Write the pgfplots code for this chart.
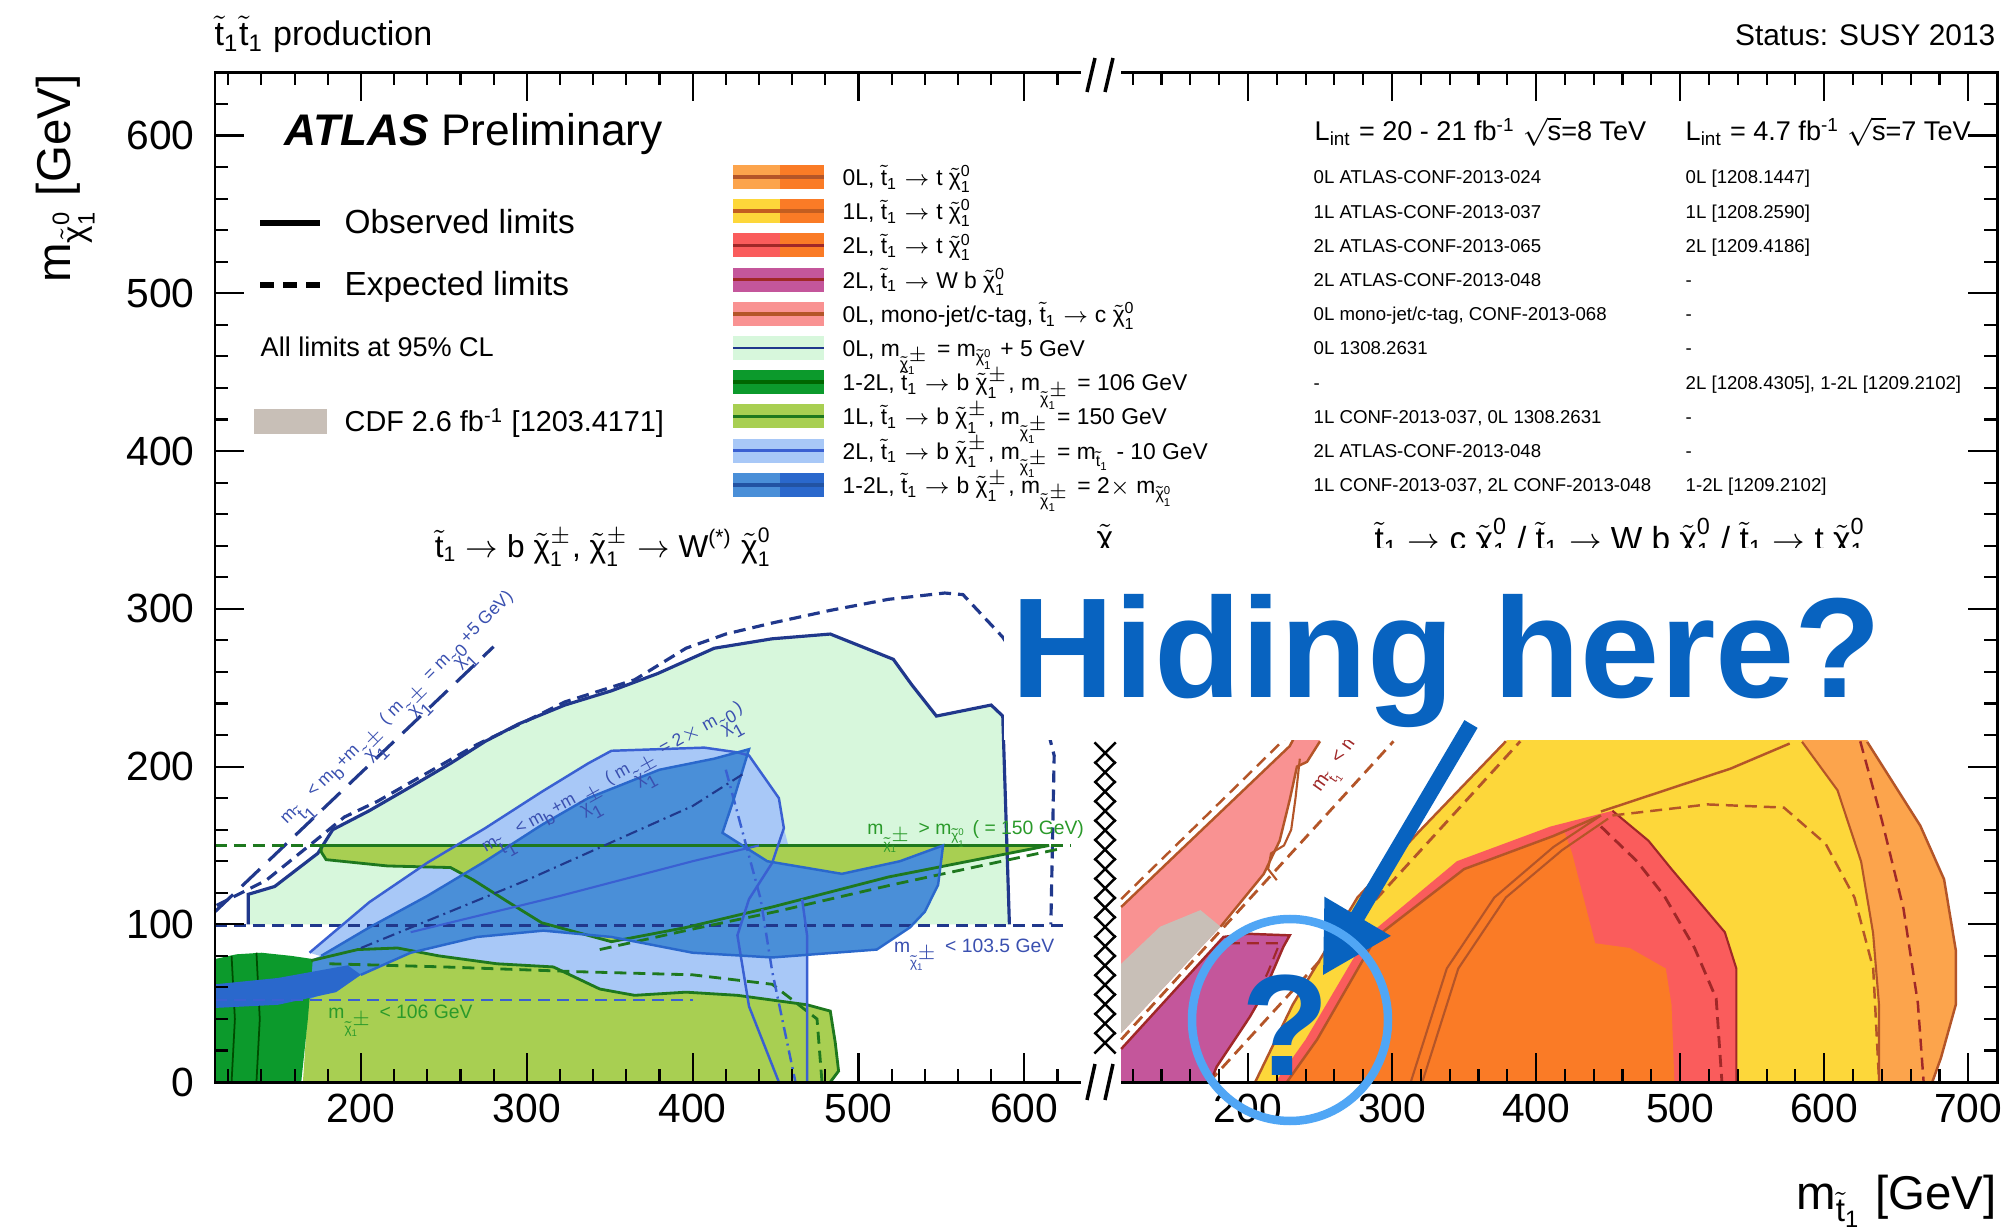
\documentclass[border=0pt]{standalone}
\usepackage{fontspec}
\setmainfont{Liberation Sans}
\usepackage{amsmath}
\usepackage{pgfplots}
\pgfplotsset{compat=1.18}
\usetikzlibrary{arrows.meta}

\definecolor{mint}{RGB}{215,247,220}
\definecolor{lgreen}{RGB}{168,207,82}
\definecolor{dgreen}{RGB}{12,154,44}
\definecolor{lblue}{RGB}{168,200,247}
\definecolor{mblue}{RGB}{74,143,216}
\definecolor{dblue}{RGB}{42,104,204}
\definecolor{navy}{RGB}{32,56,140}
\definecolor{bline}{RGB}{58,96,210}
\definecolor{gline}{RGB}{30,120,30}
\definecolor{pinkc}{RGB}{249,146,146}
\definecolor{cdfgray}{RGB}{200,191,183}
\definecolor{wbpurple}{RGB}{196,86,155}
\definecolor{yel}{RGB}{253,215,58}
\definecolor{lorange}{RGB}{252,164,76}
\definecolor{dorange}{RGB}{250,123,38}
\definecolor{redc}{RGB}{250,92,92}
\definecolor{brownc}{RGB}{180,85,40}
\definecolor{dred}{RGB}{160,40,40}
\definecolor{hblue}{RGB}{8,99,192}
\definecolor{cblue}{RGB}{80,166,245}
\definecolor{txtblue}{RGB}{58,80,176}
\definecolor{txtgreen}{RGB}{42,154,42}

\newcommand{\tone}{\ensuremath{\tilde{\text{t}}_{\text{1}}}}
\newcommand{\chiz}{\ensuremath{\tilde{\text{χ}}^{\text{0}}_{\text{1}}}}
\newcommand{\chipm}{\ensuremath{\tilde{\text{χ}}^{\pm}_{\text{1}}}}
\newcommand{\ra}{\ensuremath{\rightarrow}}

\newcommand{\legrow}[7]{%
  \fill[#2] (7.33,#1-0.12) rectangle (7.80,#1+0.12);
  \fill[#3] (7.80,#1-0.12) rectangle (8.24,#1+0.12);
  \draw[line width=0.035cm,#4] (7.33,#1) -- (8.24,#1);
  \node[anchor=base west,inner sep=0pt,font=\fontsize{6.5}{7.5}\selectfont] at (8.42,#1-0.085) {#5};
  \node[anchor=base west,inner sep=0pt,font=\fontsize{5.3}{6}\selectfont] at (13.13,#1-0.07) {#6};
  \node[anchor=base west,inner sep=0pt,font=\fontsize{5.3}{6}\selectfont] at (16.85,#1-0.07) {#7};
}

\pgfplotsset{
  myaxis/.style={
    scale only axis, height=10.097cm, ymin=0, ymax=640,
    axis on top, clip=false,
    tick align=inside,
    major tick length=0.29cm, minor tick length=0.13cm,
    every tick/.style={black, line width=0.6pt},
    axis line style={draw=none},
    ticklabel style={font=\fontsize{11.6}{13}\selectfont},
    /pgf/number format/assume math mode=true,
    ytick={0,100,200,300,400,500,600},
    minor ytick={20,40,...,620},
  },
  dsh/.style={dash pattern=on 0.12cm off 0.07cm},
  ldsh/.style={dash pattern=on 0.25cm off 0.12cm},
  dshdot/.style={dash pattern=on 0.12cm off 0.05cm on 0.02cm off 0.05cm},
}

\begin{document}
\begin{tikzpicture}
\useasboundingbox (0,0) rectangle (20.08,12.29);
\fill[white] (0,0) rectangle (20.08,12.29);

% ================= LEFT PANEL =================
\begin{axis}[myaxis, at={(2.15cm,1.469cm)}, anchor=south west, width=8.657cm,
  xmin=112, xmax=634, xtick={200,300,400,500,600}, minor xtick={120,140,...,620},
  ytick pos=left, yticklabel style={xshift=-0.08cm}]
% mint region (0L, m_chi+- = m_chi0 + 5 GeV)
\addplot[fill=mint, draw=none] coordinates {(132,100) (132,119) (148,124) (174,145) (183,160) (205,172) (233,189) (254,202) (275,216) (295,227) (323,239) (351,248) (379,259) (413,275) (448,281) (483,284) (521,268) (532,252) (547,232) (580,239) (587,232) (591,100)} -- cycle;
% light blue (2L, m_chi+- = m_t - 10)
\addplot[fill=lblue, draw=none] coordinates {(169,82) (205,114) (240,139) (275,161) (309,184) (337,202) (351,210) (379,211) (407,212) (427,209) (434,207) (452,180) (455,161) (466,116) (469,93) (469,0) (440,0) (430,45) (380,50) (330,55) (280,62) (240,68) (200,72)} -- cycle;
% light green band (1L, m_chi+- = 150)
\addplot[fill=lgreen, draw=none] coordinates {(176,150) (615,150) (518,130) (448,111) (396,98) (351,89) (309,101) (289,114) (268,128) (254,136) (216,137) (179,141) (176,146)} -- cycle;
\addplot[fill=lgreen, draw=none] coordinates {(165,0) (170,77) (198,84) (222,85) (247,80) (282,75) (316,73) (330,66) (344,59) (365,55) (396,57) (427,55) (448,52) (469,49) (483,45) (486,25) (488,7) (483,0)} -- cycle;
% medium blue (1-2L, m_chi+- = 2 m_chi0)
\addplot[fill=mblue, draw=none] coordinates {(112,40) (112,60) (150,70) (176,80) (205,98) (240,118) (275,140) (309,163) (337,180) (380,198) (413,205) (434,211) (425,180) (418,158) (445,140) (490,132) (525,140) (551,150) (548,125) (540,108) (531,98) (511,84) (448,79) (400,82) (351,92) (310,96) (270,92) (230,82) (200,68) (175,55) (150,45)} -- cycle;
% dark green (1-2L, m_chi+- = 106)
\addplot[fill=dgreen, draw=none] coordinates {(112,0) (112,78) (125,81) (140,82) (158,80) (171,78) (168,40) (164,0)} -- cycle;
\addplot[black!70!green, line width=0.5pt] coordinates {(122,80) (124,40) (122,0)};
\addplot[black!70!green, line width=0.5pt] coordinates {(137,82) (139,40) (137,0)};
% blue band crossing the dark green
\addplot[fill=dblue, draw=none] coordinates {(112,47) (112,62) (150,66) (192,74) (200,68) (185,57) (150,49)} -- cycle;
% lines
\addplot[navy, line width=0.9pt] coordinates {(132,100) (132,119) (148,124) (174,145) (183,160) (205,172) (233,189) (254,202) (275,216) (295,227) (323,239) (351,248) (379,259) (413,275) (448,281) (483,284) (521,268) (532,252) (547,232) (580,239) (587,232) (591,100)};
\addplot[navy, line width=0.9pt, dsh] coordinates {(113,112) (143,128) (176,156) (190,168) (210,178) (240,196) (270,214) (300,229) (323,241) (365,255) (396,275) (420,284) (448,291) (483,299) (518,306) (552,310) (563,309) (587,282) (608,248) (618,207) (616,100)};
\addplot[navy, line width=0.9pt, ldsh] coordinates {(112,108) (280,276)};
\addplot[navy, line width=0.9pt, dsh] coordinates {(112,99) (625,99)};
\addplot[bline, line width=0.8pt, dsh] coordinates {(112,52) (400,52)};
\addplot[gline, line width=1pt, dsh] coordinates {(112,150) (628,150)};
\addplot[gline, line width=0.8pt] coordinates {(615,150) (518,130) (448,111) (396,98) (351,89) (309,101) (289,114) (268,128) (254,136) (216,137) (179,141) (176,146) (176,150) (615,150)};
\addplot[gline, line width=0.8pt, dsh] coordinates {(344,84) (400,97) (450,108) (520,125) (622,148)};
\addplot[gline, line width=0.8pt] coordinates {(170,77) (198,84) (222,85) (247,80) (282,75) (316,73) (330,66) (344,59) (365,55) (396,57) (427,55) (448,52) (469,49) (483,45) (486,25) (488,7) (483,0)};
\addplot[gline, line width=0.8pt, dsh] coordinates {(181,75) (250,73) (330,70) (400,68) (448,62) (475,40) (478,0)};
\addplot[bline, line width=0.7pt] coordinates {(169,82) (205,114) (240,139) (275,161) (309,184) (337,202) (351,210) (379,211) (407,212) (427,209) (434,207) (452,180) (455,161) (448,139) (434,116) (427,93) (434,48) (452,0)};
\addplot[bline, line width=0.7pt, dshdot] coordinates {(420,198) (441,116) (448,70) (462,0)};
\addplot[bline, line width=0.7pt] coordinates {(466,116) (469,93) (469,0)};
\addplot[dblue, line width=0.7pt] coordinates {(176,80) (205,98) (240,118) (275,140) (309,163) (337,180) (380,198) (413,205) (434,211) (425,180) (418,158) (445,140) (490,132) (525,140) (551,150) (548,125) (540,108) (531,98) (511,84) (448,79) (400,82) (351,92) (310,96) (270,92) (230,82) (200,68)};
\addplot[navy, line width=0.6pt, dshdot] coordinates {(200,85) (300,128) (400,175) (430,195)};
\addplot[bline, line width=0.6pt] coordinates {(230,95) (320,118) (400,140) (440,150)};
% labels
\node[rotate=45, anchor=base west, inner sep=0pt, text=txtblue, font=\fontsize{5}{6}\selectfont] at (axis cs:155,163) {m$_{\tone}$ < m$_{\text{b}}$+m$_{\chipm}$ ( m$_{\chipm}$ = m$_{\chiz}$+5 GeV)};
\node[rotate=29, anchor=base west, inner sep=0pt, text=txtblue, font=\fontsize{5}{6}\selectfont] at (axis cs:275,145) {m$_{\tone}$ < m$_{\text{b}}$+m$_{\chipm}$ ( m$_{\chipm}$ = 2$\times$ m$_{\chiz}$)};
\node[anchor=base west, inner sep=0pt, text=txtgreen, font=\fontsize{5.5}{6}\selectfont] at (axis cs:505,157) {m$_{\chipm}$ > m$_{\chiz}$ ( = 150 GeV)};
\node[anchor=base west, inner sep=0pt, text=txtblue, font=\fontsize{5.5}{6}\selectfont] at (axis cs:521,82) {m$_{\chipm}$ < 103.5 GeV};
\node[anchor=base west, inner sep=0pt, text=txtgreen, font=\fontsize{5.5}{6}\selectfont] at (axis cs:180,40) {m$_{\chipm}$ < 106 GeV};
% axis lines
\draw[line width=0.8pt] (rel axis cs:1,1) -- (rel axis cs:0,1) -- (rel axis cs:0,0) -- (rel axis cs:1,0);
\end{axis}

% ================= RIGHT PANEL =================
\begin{axis}[myaxis, at={(11.212cm,1.469cm)}, anchor=south west, width=8.759cm,
  xmin=112, xmax=720, xtick={200,300,400,500,600,700}, minor xtick={120,140,...,700},
  ytick pos=right, yticklabels={}]
\addplot[fill=lorange, draw=none] coordinates {(450,0) (450,240) (640,240) (629.8,215.7) (666.7,162.5) (683.2,128.5) (691.4,83.2) (691.4,49.3) (681,15.3) (675,0)} -- cycle;
\addplot[fill=yel, draw=none] coordinates {(205,0) (231,49) (276,117) (320,160) (379,216) (400,240) (584.6,240) (584.6,215.7) (609.2,185) (625.6,139.8) (633.9,94.6) (638,49.3) (638,0)} -- cycle;
\addplot[fill=redc, draw=none] coordinates {(219,0) (240,27) (282,92) (345,140) (410,162) (453,172) (478,153) (494,135) (531,95) (539,72) (539,0)} -- cycle;
\addplot[fill=dorange, draw=none] coordinates {(227,0) (248,27) (289,92) (350,135) (412,156) (420,158) (425,145) (441,88) (465,85) (490,72) (494,49) (496,0)} -- cycle;
\addplot[fill=pinkc, draw=none] coordinates {(112,31) (112,111) (229,213) (240,232) (250,216) (241,203) (234,200) (229,179) (222,153) (211,132) (181,98.5)} -- cycle;
\addplot[fill=cdfgray, draw=none] coordinates {(112,31) (112,75) (139,98.5) (167,109) (181,98.5)} -- cycle;
\addplot[fill=wbpurple, draw=none] coordinates {(112,0) (112,21) (183,92) (200,94) (229,93) (224.6,85.8) (210.7,56.3) (201.4,41.5) (192.2,28.8) (178.3,9.8) (174,0)} -- cycle;
% lines
\addplot[brownc, line width=0.7pt] coordinates {(112,111) (229,213) (240,232)};
\addplot[brownc, line width=0.7pt, dsh] coordinates {(112,116) (226,218)};
\addplot[brownc, line width=0.7pt] coordinates {(250,216) (241,203) (234,200) (229,179) (222,153) (211,132) (181,98.5)};
\addplot[brownc, line width=0.6pt] coordinates {(236,205) (233,180) (230,160) (225,150) (216,145) (214,135) (220,128)};
\addplot[brownc, line width=0.8pt, dsh] coordinates {(112,27) (301,216)};
\addplot[brownc, line width=0.8pt, dsh] coordinates {(173,0) (389,216)};
\addplot[dred, line width=0.7pt] coordinates {(112,21) (183,92) (200,94) (229,93) (224.6,85.8) (210.7,56.3) (201.4,41.5) (192.2,28.8) (178.3,9.8) (174,0)};
\addplot[dred, line width=0.6pt, dsh] coordinates {(186,88) (222,88) (214,70) (204,50)};
\addplot[brownc, line width=0.7pt] coordinates {(205,0) (231,49) (276,117) (320,160) (379,216)};
\addplot[brownc, line width=0.7pt] coordinates {(227,0) (248,27) (289,92) (350,135) (412,156) (445,169)};
\addplot[brownc, line width=0.6pt] coordinates {(313,0) (338,72) (371,117) (412,149) (445,169)};
\addplot[brownc, line width=0.6pt] coordinates {(321,0) (346,72) (379,117) (418,147) (450,167)};
\addplot[dred, line width=0.8pt, dsh] coordinates {(445,162) (470,140) (489,118) (510,85) (525,53) (529,0)};
\addplot[dred, line width=0.6pt] coordinates {(453,172) (478,153) (494,135) (531,95) (539,72) (539,0)};
\addplot[brownc, line width=0.7pt, dsh] coordinates {(453,169) (519,176) (572,174) (601,151) (621,117) (634,72) (638,2)};
\addplot[brownc, line width=0.7pt] coordinates {(445,171.5) (535,198.7) (576,214.6)};
\addplot[brownc, line width=0.7pt] coordinates {(629.8,215.7) (666.7,162.5) (683.2,128.5) (691.4,83.2) (691.4,49.3) (681,15.3) (675,0)};
\addplot[dred, line width=0.7pt, dsh] coordinates {(625,216) (640,166) (655,110) (665,50) (669,0)};
\addplot[brownc, line width=0.6pt] coordinates {(584.6,215.7) (609.2,185) (625.6,139.8) (633.9,94.6) (638,49.3) (638,0)};
% hatch column
\addplot[only marks, mark=x, mark size=0.15cm, mark options={black, line width=0.7pt}] coordinates {(100.8,208.6) (100.8,196.35) (100.8,184.1) (100.8,171.85) (100.8,159.6) (100.8,147.35) (100.8,135.1) (100.8,122.85) (100.8,110.6) (100.8,98.35) (100.8,86.1) (100.8,73.85) (100.8,61.6) (100.8,49.35) (100.8,37.1) (100.8,24.85)};
\node[rotate=55, anchor=base west, inner sep=0pt, text=dred, font=\fontsize{5.5}{6}\selectfont] at (axis cs:250,183) {m$_{\tone}$ < m$_{\text{W}}$+m$_{\text{b}}$+m$_{\chiz}$};
\draw[line width=0.8pt] (rel axis cs:0,1) -- (rel axis cs:1,1) -- (rel axis cs:1,0) -- (rel axis cs:0,0);
\end{axis}

% ================= TEXT / LEGEND =================
\node[anchor=base west, inner sep=0pt, font=\fontsize{9.7}{11}\selectfont] at (2.14,11.83) {\tone\tone\ production};
\node[anchor=base east, inner sep=0pt, font=\fontsize{8.5}{10}\selectfont] at (19.96,11.83) {Status: SUSY 2013};
\node[anchor=base west, inner sep=0pt, font=\fontsize{12.6}{14}\selectfont] at (2.84,10.83) {{\bfseries\itshape ATLAS} Preliminary};
\draw[line width=0.06cm] (2.60,10.06) -- (3.20,10.06);
\node[anchor=base west, inner sep=0pt, font=\fontsize{9.5}{11}\selectfont] at (3.44,9.95) {Observed limits};
\draw[line width=0.06cm, dash pattern=on 0.14cm off 0.09cm] (2.60,9.44) -- (3.20,9.44);
\node[anchor=base west, inner sep=0pt, font=\fontsize{9.5}{11}\selectfont] at (3.44,9.33) {Expected limits};
\node[anchor=base west, inner sep=0pt, font=\fontsize{7.7}{9}\selectfont] at (2.60,8.72) {All limits at 95\% CL};
\fill[cdfgray] (2.54,7.95) rectangle (3.27,8.20);
\node[anchor=base west, inner sep=0pt, font=\fontsize{8.2}{9}\selectfont] at (3.44,7.97) {CDF 2.6 fb$^{\text{-1}}$ [1203.4171]};

\node[anchor=base west, inner sep=0pt, font=\fontsize{7.7}{9}\selectfont] at (13.14,10.88) {L$_{\text{int}}$ = 20 - 21 fb$^{\text{-1}}$ $\sqrt{\text{s}}$=8 TeV};
\node[anchor=base west, inner sep=0pt, font=\fontsize{7.7}{9}\selectfont] at (16.85,10.88) {L$_{\text{int}}$ = 4.7 fb$^{\text{-1}}$ $\sqrt{\text{s}}$=7 TeV};

\legrow{10.52}{lorange}{dorange}{brownc}{0L, \tone{} \ra{} t \chiz}{0L ATLAS-CONF-2013-024}{0L [1208.1447]}
\legrow{10.178}{yel}{dorange}{brownc!80!orange}{1L, \tone{} \ra{} t \chiz}{1L ATLAS-CONF-2013-037}{1L [1208.2590]}
\legrow{9.836}{redc}{dorange}{dred}{2L, \tone{} \ra{} t \chiz}{2L ATLAS-CONF-2013-065}{2L [1209.4186]}
\legrow{9.494}{wbpurple}{wbpurple}{dred}{2L, \tone{} \ra{} W b \chiz}{2L ATLAS-CONF-2013-048}{-}
\legrow{9.152}{pinkc}{pinkc}{brownc}{0L,  mono-jet/c-tag, \tone{} \ra{} c \chiz}{0L mono-jet/c-tag, CONF-2013-068}{-}
\legrow{8.81}{mint}{mint}{navy,line width=0.02cm}{0L,  m$_{\chipm}$ = m$_{\chiz}$ + 5 GeV}{0L 1308.2631}{-}
\legrow{8.468}{dgreen}{dgreen}{black!60!green}{1-2L, \tone{} \ra{} b \chipm, m$_{\chipm}$ = 106 GeV}{-}{2L [1208.4305], 1-2L [1209.2102]}
\legrow{8.126}{lgreen}{lgreen}{gline}{1L, \tone{} \ra{} b \chipm, m$_{\chipm}$ = 150 GeV}{1L CONF-2013-037, 0L 1308.2631}{-}
\legrow{7.784}{lblue}{lblue}{bline}{2L, \tone{} \ra{} b \chipm, m$_{\chipm}$ = m$_{\tone}$ - 10 GeV}{2L ATLAS-CONF-2013-048}{-}
\legrow{7.442}{mblue}{dblue}{dblue!80!black}{1-2L, \tone{} \ra{} b \chipm, m$_{\chipm}$ = 2$\times$ m$_{\chiz}$}{1L CONF-2013-037, 2L CONF-2013-048}{1-2L [1209.2102]}

\node[anchor=base, inner sep=0pt, font=\fontsize{9}{10}\selectfont] at (6.03,6.71) {\tone{} \ra{} b \chipm, \chipm{} \ra{} W$^{\text{(*)}}$ \chiz};
\node[anchor=base west, inner sep=0pt, font=\fontsize{9}{10}\selectfont] at (10.96,6.80) {$\tilde{\text{χ}}$};
\node[anchor=base, inner sep=0pt, font=\fontsize{9.5}{10}\selectfont] at (16.2,6.78) {\tone{} \ra{} c \chiz{} / \tone{} \ra{} W b \chiz{} / \tone{} \ra{} t \chiz};

% axis titles
\node[rotate=90, anchor=base east, inner sep=0pt, font=\fontsize{13.5}{15}\selectfont] at (0.70,11.55) {m$_{\chiz}$ [GeV]};
\node[anchor=base east, inner sep=0pt, font=\fontsize{13.5}{15}\selectfont] at (19.97,0.19) {m$_{\tone}$ [GeV]};

% axis breaks
\draw[line width=0.035cm] (10.87,11.37) -- (10.95,11.71);
\draw[line width=0.035cm] (11.05,11.37) -- (11.13,11.71);
\draw[line width=0.035cm] (10.87,1.29) -- (10.95,1.65);
\draw[line width=0.035cm] (11.05,1.29) -- (11.13,1.65);

% overlay
\fill[white] (10.04,4.89) rectangle (19.50,6.81);
\node[anchor=base west, inner sep=0pt, text=hblue, font=\fontsize{40.5}{44}\selectfont\bfseries] at (10.11,5.31) {Hiding here?};
\draw[hblue, line width=0.153cm, -{Triangle[length=0.69cm,width=0.725cm]}] (14.71,5.05) -- (13.226,2.533);
\draw[cblue, line width=0.085cm] (12.90,2.09) ellipse [x radius=0.98cm, y radius=1.01cm];
\node[anchor=base, inner sep=0pt, text=hblue, font=\fontsize{41}{46}\selectfont\bfseries] at (12.86,1.53) {?};
\end{tikzpicture}
\end{document}
